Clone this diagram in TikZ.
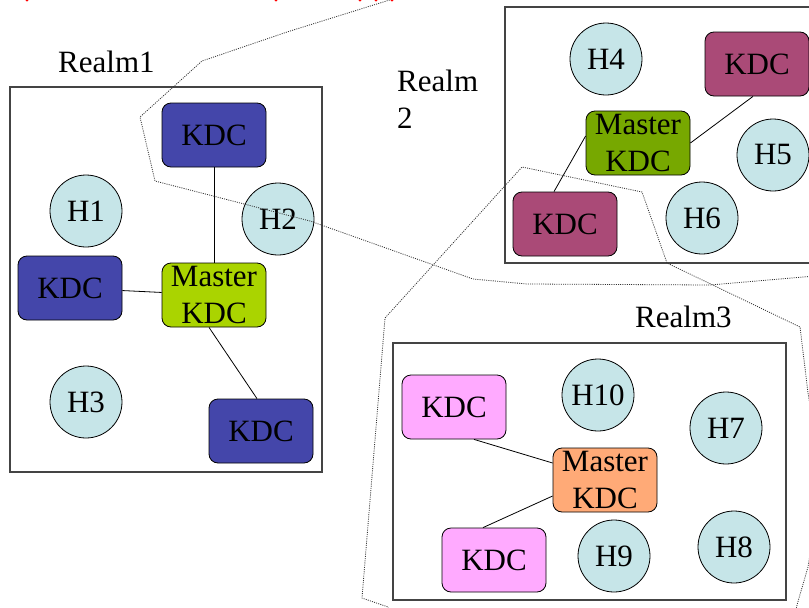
\documentclass[tikz,border=0pt]{standalone}
\usepackage{fontspec}
\setmainfont{Liberation Serif}
\usetikzlibrary{calc}

\definecolor{kdcone}{HTML}{4446AA}
\definecolor{kdctwo}{HTML}{AA4A77}
\definecolor{kdcthree}{HTML}{FFAAFF}
\definecolor{masterone}{HTML}{AAD400}
\definecolor{mastertwo}{HTML}{77A800}
\definecolor{masterthree}{HTML}{FFAA77}
\definecolor{hostcol}{HTML}{C6E5E8}
\definecolor{boxcol}{HTML}{444444}

\providecommand{\nodefontsize}{\fontsize{31}{37}\selectfont}

\tikzset{
    kdc/.style={draw,line width=0.8pt,rounded corners=9pt,minimum width=104pt,minimum height=64pt,inner sep=0,font=\nodefontsize},
    master/.style={kdc,label={[inner sep=0,align=center,font=\nodefontsize]center:Master\\KDC}},
    host/.style={draw,line width=0.8pt,circle,fill=hostcol,minimum size=72pt,inner sep=0,font=\nodefontsize},
    realmbox/.style={draw=boxcol,line width=1.4pt},
    realmlabel/.style={inner sep=0,font=\nodefontsize},
    link/.style={line width=0.8pt},
    border/.style={line width=0.8pt,black!80,dash pattern=on 1pt off 1.2pt}
}

\begin{document}
\begin{tikzpicture}[x=1pt,y=-1pt]
    \clip (0,0) rectangle (809,608);
    \fill[white] (0,0) rectangle (809,608);
    % realm frames
    \draw[realmbox] (10,87) rectangle (322,472);
    \draw[realmbox] (505,7) rectangle (820,263);
    \draw[realmbox] (393,343) rectangle (786,600);
    \node[realmlabel,anchor=base west] (r1lab) at (58,72) {Realm1};
    \node[realmlabel,anchor=north west,align=left] (r2lab) at (397,70) {Realm\\2};
    \node[realmlabel,anchor=base west] (r3lab) at (635,327) {Realm3};
    % Realm1
    \node[kdc,fill=kdcone] (k1a) at (214,135) {KDC};
    \node[kdc,fill=kdcone] (k1b) at (70,288) {KDC};
    \node[kdc,fill=kdcone] (k1c) at (261,431) {KDC};
    \node[master,fill=masterone] (m1) at (214,295) {};
    \node[host] (h1) at (86,211) {H1};
    \node[host] (h2) at (278,219) {H2};
    \node[host] (h3) at (86,402) {H3};
    \draw[link] (k1a) -- (m1);
    \draw[link] (k1b) -- (m1);
    \draw[link] ($(m1.south)+(-5,0)$) -- ($(k1c.north)+(-4,0)$);
    % Realm2
    \node[kdc,fill=kdctwo] (k2a) at (757,64) {KDC};
    \node[kdc,fill=kdctwo] (k2b) at (565,224) {KDC};
    \node[master,fill=mastertwo] (m2) at (638,143) {};
    \node[host] (h4) at (606,59) {H4};
    \node[host] (h5) at (773,155) {H5};
    \node[host] (h6) at (702,218) {H6};
    \draw[link] (m2.east) -- ($(k2a.south)+(-4,0)$);
    \draw[link] ($(m2.west)+(0,-7)$) -- ($(k2b.north)+(-11,0)$);
    % Realm3
    \node[kdc,fill=kdcthree] (k3a) at (454,407) {KDC};
    \node[kdc,fill=kdcthree] (k3b) at (494,560) {KDC};
    \node[master,fill=masterthree] (m3) at (605,480) {};
    \node[host] (h10) at (598,395) {H10};
    \node[host] (h7) at (726,428) {H7};
    \node[host] (h9) at (614,556) {H9};
    \node[host] (h8) at (734,547) {H8};
    \draw[link] ($(k3a.south)+(20,0)$) -- ($(m3.west)+(0,-17)$);
    \draw[link] ($(k3b.north)+(-11,0)$) -- ($(m3.west)+(0,16)$);
    % dotted outlines
    \draw[border] (396,-2) -- (287,32) -- (202,61) -- (140,117) -- (155,181) -- (310,221)
        -- (473,279) -- (527,284) -- (710,285) -- (815,276);
    \draw[border] (390,615) -- (388,607) -- (362,598) -- (385,318) -- (522,167) -- (642,192)
        -- (667,263) -- (800,327) -- (808,393) -- (822,480) -- (808,567) -- (797,605) -- (795,615);
    \foreach \x in {27,276,360,376,392}
        \fill[red] (\x,0) circle (1.6);
\end{tikzpicture}
\end{document}
